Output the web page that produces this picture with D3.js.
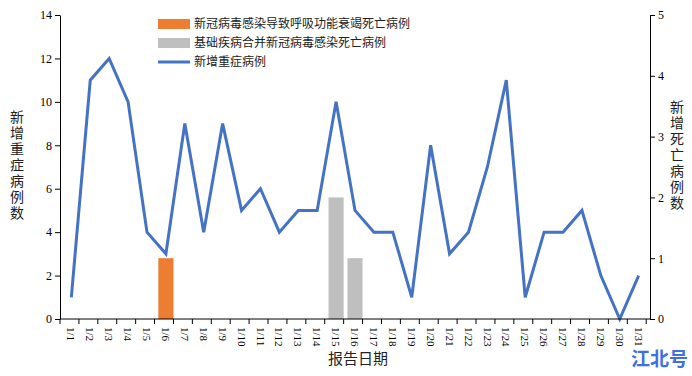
<!DOCTYPE html>
<html>
<head>
<meta charset="utf-8">
<script src="https://cdn.jsdelivr.net/npm/d3@7"></script>
<style>
  body { margin: 0; background: #fff; }
  svg { display: block; }
</style>
</head>
<body>
<svg id="chart" width="692" height="376"></svg>
<script>
// dates on the x axis
var dates = ["1/1","1/2","1/3","1/4","1/5","1/6","1/7","1/8","1/9","1/10","1/11","1/12","1/13","1/14","1/15","1/16",
  "1/17","1/18","1/19","1/20","1/21","1/22","1/23","1/24","1/25","1/26","1/27","1/28","1/29","1/30","1/31"];
// new severe cases (left axis)
var severe = [1,11,12,10,4,3,9,4,9,5,6,4,5,5,10,5,4,4,1,8,3,4,7,11,1,4,4,5,2,0,2];
// deaths from covid respiratory failure (right axis)
var deathsResp = [0,0,0,0,0,1,0,0,0,0,0,0,0,0,0,0,0,0,0,0,0,0,0,0,0,0,0,0,0,0,0];
// deaths with underlying disease (right axis)
var deathsBase = [0,0,0,0,0,0,0,0,0,0,0,0,0,0,2,1,0,0,0,0,0,0,0,0,0,0,0,0,0,0,0];
var leftTicks = [0,2,4,6,8,10,12,14];
var rightTicks = [0,1,2,3,4,5];
var legendNames = ["新冠病毒感染导致呼吸功能衰竭死亡病例", "基础疾病合并新冠病毒感染死亡病例", "新增重症病例"];

var svg = d3.select("#chart");
var plotLeft = 60, plotRight = 650, plotTop = 15, plotBottom = 319;

var x = d3.scaleBand().domain(dates).range([plotLeft, plotRight]).padding(0.2);
var yL = d3.scaleLinear().domain([0, 14]).range([plotBottom, plotTop]);
var yR = d3.scaleLinear().domain([0, 5]).range([plotBottom, plotTop]);

var serif = "'Liberation Serif', 'DejaVu Serif', serif";
var cjk = "'Noto Sans CJK SC', sans-serif";

// bars
var bw = x.bandwidth();
function drawBars(vals, color) {
  svg.append("g").selectAll("rect")
    .data(vals.map(function(v, i) { return {d: dates[i], v: v}; }).filter(function(o) { return o.v > 0; }))
    .enter().append("rect")
    .attr("x", function(o) { return x(o.d); })
    .attr("y", function(o) { return yR(o.v); })
    .attr("width", bw)
    .attr("height", function(o) { return yR(0) - yR(o.v); })
    .attr("fill", color);
}
drawBars(deathsResp, "#ED7D31");
drawBars(deathsBase, "#BFBFBF");

// line
var line = d3.line()
  .x(function(v, i) { return x(dates[i]) + bw / 2; })
  .y(function(v) { return yL(v); });
svg.append("path").datum(severe)
  .attr("d", line)
  .attr("fill", "none")
  .attr("stroke", "#4472C4")
  .attr("stroke-width", 3)
  .attr("stroke-linejoin", "miter");

// left axis
var axL = svg.append("g").attr("transform", "translate(" + plotLeft + ",0)")
  .call(d3.axisLeft(yL).tickValues(leftTicks).tickFormat(d3.format("d")).tickSize(5).tickSizeOuter(0));
axL.selectAll("text").attr("font-family", serif).attr("font-size", 12).attr("fill", "#000");
axL.selectAll("line, path").attr("stroke", "#000");

// right axis
var axR = svg.append("g").attr("transform", "translate(" + plotRight + ",0)")
  .call(d3.axisRight(yR).tickValues(rightTicks).tickFormat(d3.format("d")).tickSize(5).tickSizeOuter(0));
axR.selectAll("text").attr("font-family", serif).attr("font-size", 12).attr("fill", "#000");
axR.selectAll("line, path").attr("stroke", "#000");

// x axis: ticks on band boundaries
var axX = svg.append("g").attr("transform", "translate(0," + plotBottom + ")");
axX.append("line").attr("x1", plotLeft).attr("x2", plotRight).attr("stroke", "#000");
var step = x.step();
axX.selectAll("line.tk").data(d3.range(dates.length + 1)).enter().append("line")
  .attr("class", "tk")
  .attr("x1", function(i) { return plotLeft + i * step; })
  .attr("x2", function(i) { return plotLeft + i * step; })
  .attr("y2", 5).attr("stroke", "#000");
axX.selectAll("text").data(dates).enter().append("text")
  .attr("transform", function(d) { return "translate(" + (x(d) + bw / 2) + ",8) rotate(90)"; })
  .attr("dy", "0.35em")
  .attr("text-anchor", "start")
  .attr("font-family", serif)
  .attr("font-size", 11)
  .text(function(d) { return d; });

// axis titles, written vertically
function vertTitle(txt, cx, y0) {
  svg.append("text")
    .attr("x", cx).attr("y", y0)
    .style("writing-mode", "vertical-rl")
    .style("text-orientation", "upright")
    .attr("letter-spacing", 2)
    .attr("font-family", cjk).attr("font-size", 14).attr("fill", "#222")
    .text(txt);
}
vertTitle("新增重症病例数", 17, 110);
vertTitle("新增死亡病例数", 677, 100);

svg.append("text").attr("x", 358).attr("y", 364)
  .attr("text-anchor", "middle")
  .attr("font-family", cjk).attr("font-size", 15).attr("fill", "#222")
  .text("报告日期");

// legend
var lg = svg.append("g").attr("transform", "translate(158,24)");
var legColors = ["#ED7D31", "#BFBFBF", "#4472C4"];
legendNames.forEach(function(name, i) {
  var row = lg.append("g").attr("transform", "translate(0," + i * 19 + ")");
  if (i < 2) {
    row.append("rect").attr("x", 0).attr("y", -5).attr("width", 32).attr("height", 10).attr("fill", legColors[i]);
  } else {
    row.append("line").attr("x1", 0).attr("x2", 32).attr("stroke", legColors[i]).attr("stroke-width", 3);
  }
  row.append("text").attr("x", 36).attr("dy", "0.35em")
    .attr("font-family", cjk).attr("font-size", 12).attr("fill", "#222")
    .text(name);
});

// watermark
svg.append("text").attr("x", 688).attr("y", 366)
  .attr("text-anchor", "end")
  .attr("font-family", cjk).attr("font-weight", "bold").attr("font-size", 19)
  .attr("fill", "#3D6FE6")
  .text("江北号");
</script>
</body>
</html>
